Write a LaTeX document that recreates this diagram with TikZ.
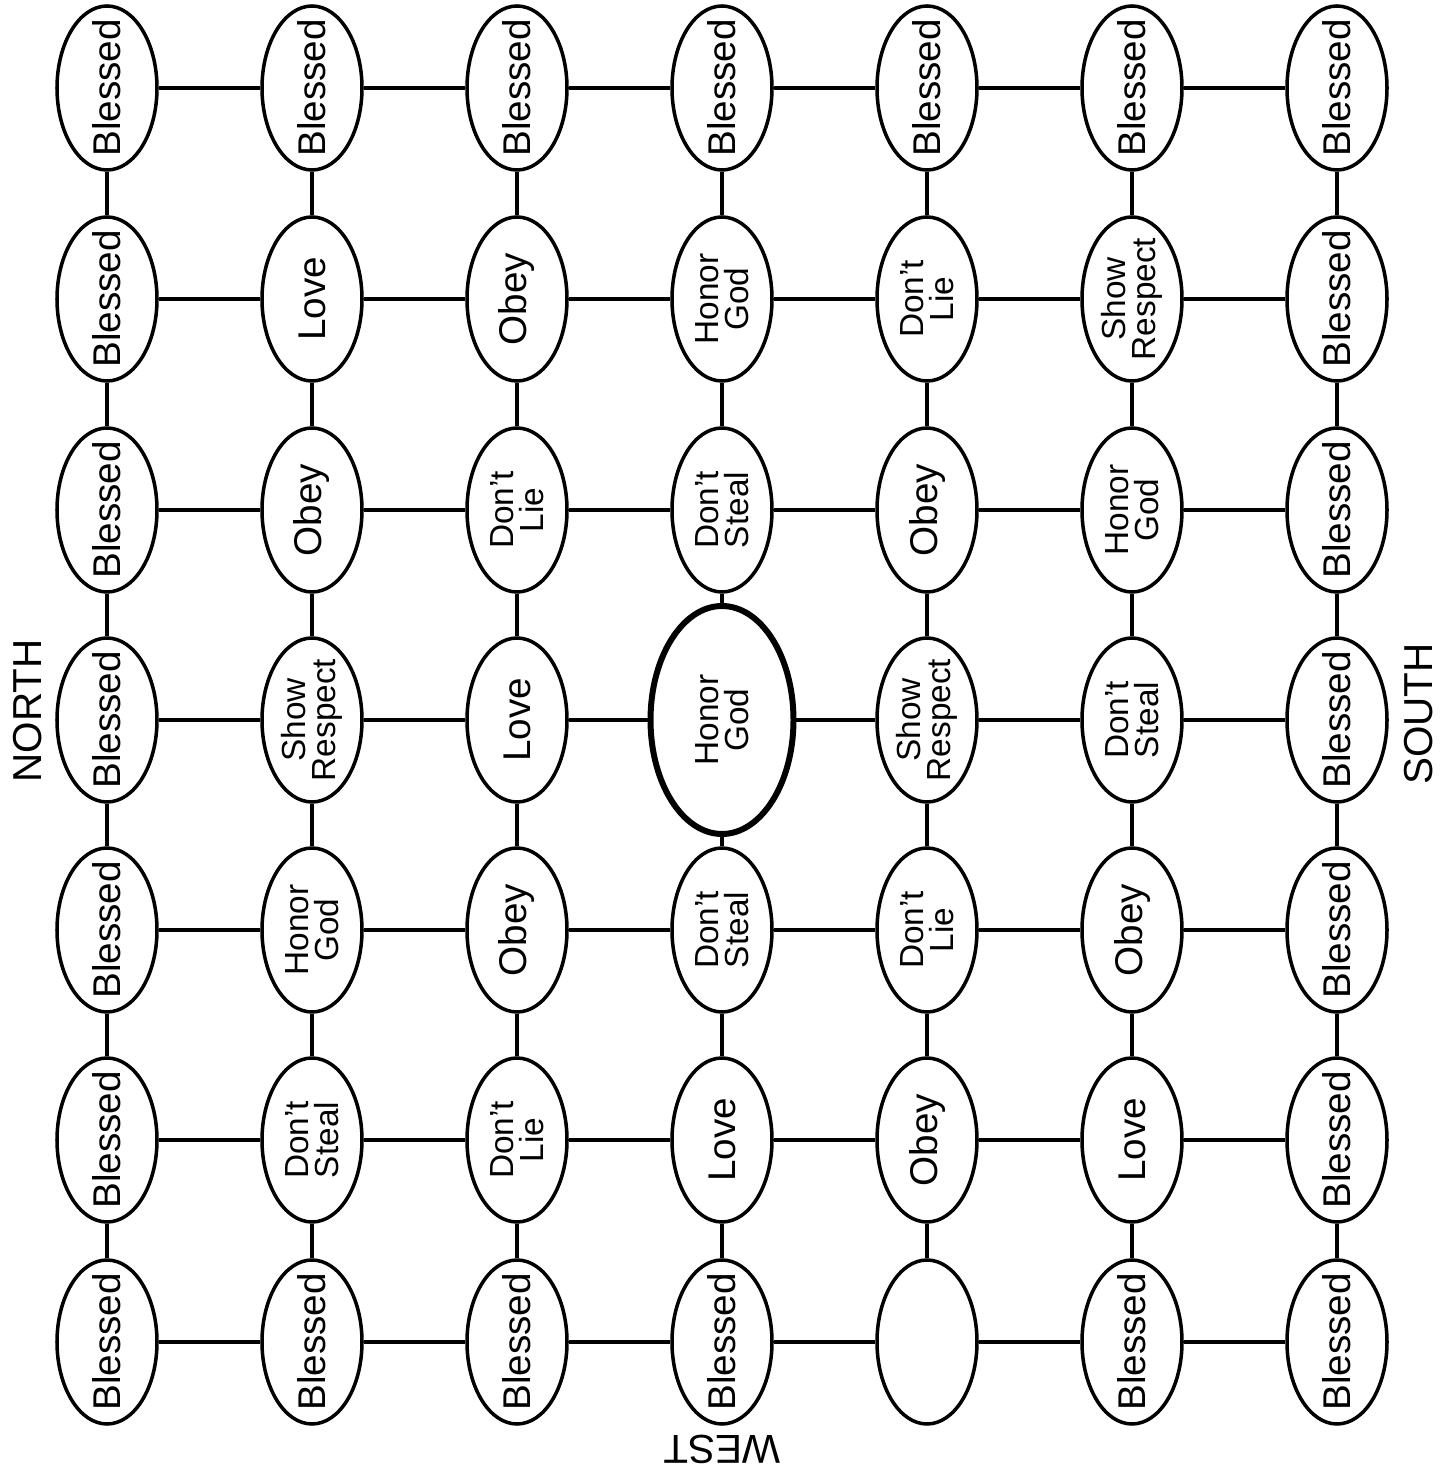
\documentclass[tikz,border=0pt]{standalone}
\usepackage{fontspec}
\setmainfont{Liberation Sans}
\usetikzlibrary{shapes.geometric}
\newcommand{\pairsize}{\fontsize{9.5}{7.6}\selectfont}
\newcommand{\twoline}[2]{\pairsize #1\\[-2.6pt]\pairsize #2}

\begin{document}
\begin{tikzpicture}[
    cell/.style={ellipse, draw, line width=1pt, rotate=90, minimum width=1.64cm,
      minimum height=1cm, inner xsep=-0.15cm, inner ysep=0pt, align=center,
      font=\fontsize{11}{11}\selectfont},
    bigcell/.style={cell, line width=1.7pt, minimum width=2.28cm, minimum height=1.43cm},
    link/.style={line width=0.9pt},
    compass/.style={font=\fontsize{11.5}{11.5}\selectfont}]
  \useasboundingbox (0,0) rectangle (14.53,14.80);
  % board, one row at a time from the top
  \foreach \t [count=\c] in {Blessed,Blessed,Blessed,Blessed,Blessed,Blessed,Blessed}
    \node[cell] (n-1-\c) at ({1.07+2.05*(\c-1)},13.92) {\t};
  \foreach \t [count=\c] in {Blessed,Love,Obey,{\twoline{Honor}{God}},{\twoline{Don't}{Lie}},{\twoline{Show}{Respect}},Blessed}
    \node[cell] (n-2-\c) at ({1.07+2.05*(\c-1)},11.81) {\t};
  \foreach \t [count=\c] in {Blessed,Obey,{\twoline{Don't}{Lie}},{\twoline{Don't}{Steal}},Obey,{\twoline{Honor}{God}},Blessed}
    \node[cell] (n-3-\c) at ({1.07+2.05*(\c-1)},9.70) {\t};
  \foreach \t/\s [count=\c] in {Blessed/cell,{\twoline{Show}{Respect}}/cell,Love/cell,{\twoline{Honor}{God}}/bigcell,{\twoline{Show}{Respect}}/cell,{\twoline{Don't}{Steal}}/cell,Blessed/cell}
    \node[\s] (n-4-\c) at ({1.07+2.05*(\c-1)},7.60) {\t};
  \foreach \t [count=\c] in {Blessed,{\twoline{Honor}{God}},Obey,{\twoline{Don't}{Steal}},{\twoline{Don't}{Lie}},Obey,Blessed}
    \node[cell] (n-5-\c) at ({1.07+2.05*(\c-1)},5.50) {\t};
  \foreach \t [count=\c] in {Blessed,{\twoline{Don't}{Steal}},{\twoline{Don't}{Lie}},Love,Obey,Love,Blessed}
    \node[cell] (n-6-\c) at ({1.07+2.05*(\c-1)},3.40) {\t};
  \foreach \t [count=\c] in {Blessed,Blessed,Blessed,Blessed,{},Blessed,Blessed}
    \node[cell] (n-7-\c) at ({1.07+2.05*(\c-1)},1.38) {\t};

  % grid lines
  \foreach \r in {1,...,7}
    \foreach \c [count=\d from 2] in {1,...,6} {
      \draw[link] (n-\r-\c) -- (n-\r-\d);
      \draw[link] (n-\c-\r) -- (n-\d-\r);
    }

  \node[compass, rotate=90] (north) at (0.28,7.69) {NORTH};
  \node[compass, rotate=90] (south) at (14.19,7.66) {SOUTH};
  \node[compass, rotate=180] (west) at (7.22,0.31) {WEST};
\end{tikzpicture}
\end{document}
